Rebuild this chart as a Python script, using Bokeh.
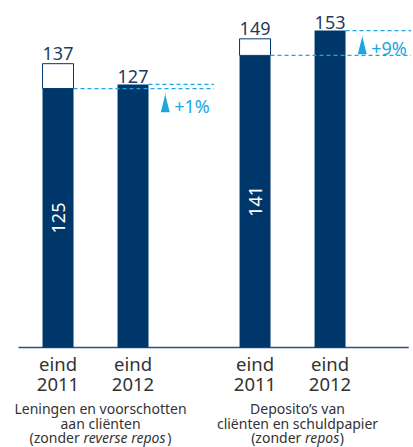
import math
from bokeh.plotting import figure
from bokeh.models import Range1d
from bokeh.core.properties import value
from bokeh.embed import file_html
from bokeh.resources import INLINE

# ---- data ----
group_line1 = ["Leningen en voorschotten", "Deposito’s van"]
group_line2 = ["aan cliënten", "cliënten en schuldpapier"]
group_line3_pre = ["(zonder ", "(zonder "]
group_line3_ital = ["reverse repos", "repos"]
group_line3_post = [")", ")"]
years = ["2011", "2012"]
period_word = "eind"
comparable_2011 = [125, 141]
reported_2011 = [137, 149]
value_2012 = [127, 153]
growth = ["+1%", "+9%"]

# ---- style ----
NAVY = "#00376b"
LABEL = "#1f3a60"
CYAN = "#1ba6e0"
GREY = "#333333"
FONT = value("Noto Sans")

BAR_W = 0.413
GROUP_STEP = 2.627

x2011 = [g * GROUP_STEP for g in range(len(comparable_2011))]
x2012 = [g * GROUP_STEP + 1.0 for g in range(len(value_2012))]
xcenter = [(a + b) / 2 for a, b in zip(x2011, x2012)]

p = figure(width=413, height=447, output_backend="svg", toolbar_location=None,
           x_range=Range1d(-0.767, 4.74), y_range=Range1d(-48.3, 167.5),
           x_axis_location=None, y_axis_location=None, min_border=0)
p.grid.visible = False
p.outline_line_color = None
p.background_fill_color = "white"

# baseline
p.segment(x0=[x2011[0] - 0.527], y0=[0], x1=[x2012[-1] + 1.05], y1=[0],
          line_color="#2e4f7c", line_width=1.5)

# bars
p.vbar(x=x2011, top=comparable_2011, bottom=0, width=BAR_W, fill_color=NAVY, line_color=None)
p.vbar(x=x2011, top=reported_2011, bottom=comparable_2011, width=BAR_W,
       fill_color="white", line_color=NAVY, line_width=1)
p.vbar(x=x2012, top=value_2012, bottom=0, width=BAR_W, fill_color=NAVY, line_color=None)

# dashed reference lines
xend = [x + 1.08 for x in x2012]
p.segment(x0=[x + BAR_W / 2 for x in x2011], y0=comparable_2011, x1=xend, y1=comparable_2011,
          line_color=CYAN, line_width=1.2, line_dash="4 3")
p.segment(x0=[x + BAR_W / 2 for x in x2012], y0=value_2012, x1=xend, y1=value_2012,
          line_color=CYAN, line_width=1.2, line_dash="4 3")

# arrows
xs, ys, tx, ty = [], [], [], []
for old, new, xb in zip(comparable_2011, value_2012, x2012):
    top = max(old, new) - 1.5
    if top - 10 < min(old, new):
        top = min(old, new) - 1.5
    bot = top - 10
    ax = xb + 0.43
    xs.append([ax, ax - 0.004, ax - 0.06, ax + 0.06, ax + 0.004])
    ys.append([top, top - 2, bot, bot, top - 2])
    tx.append(ax)
    ty.append(bot)
p.patches(xs=xs, ys=ys, fill_color=CYAN, line_color=None)
p.text(x=tx, y=ty, text=growth, x_offset=9, y_offset=-6, text_align="left",
       text_baseline="alphabetic", text_font=FONT, text_font_size="18px", text_color=CYAN)

# value labels
p.text(x=x2011, y=reported_2011, text=[str(v) for v in reported_2011], y_offset=-10,
       text_align="center", text_baseline="alphabetic", text_font=FONT,
       text_font_size="18px", text_color=LABEL)
p.text(x=x2012, y=value_2012, text=[str(v) for v in value_2012], y_offset=-8,
       text_align="center", text_baseline="alphabetic", text_font=FONT,
       text_font_size="18px", text_color=LABEL)
p.text(x=x2011, y=[v / 2 for v in comparable_2011], text=[str(v) for v in comparable_2011],
       angle=math.pi / 2, text_align="center", text_baseline="middle", text_font=FONT,
       text_font_size="18px", text_color="white")

# category labels
allx = x2011 + x2012
p.text(x=allx, y=[0] * 4, text=[period_word] * 4, y_offset=16, text_align="center",
       text_baseline="middle", text_font=FONT, text_font_size="18.5px", text_color=GREY)
p.text(x=allx, y=[0] * 4, text=[years[0]] * 2 + [years[1]] * 2, y_offset=37,
       text_align="center", text_baseline="middle", text_font=FONT,
       text_font_size="18.5px", text_color=GREY)

# group labels
GFS = "14px"
p.text(x=xcenter, y=[0, 0], text=group_line1, x_offset=5, y_offset=61, text_align="center",
       text_baseline="middle", text_font=FONT, text_font_size=GFS, text_color=GREY)
p.text(x=xcenter, y=[0, 0], text=group_line2, x_offset=5, y_offset=76, text_align="center",
       text_baseline="middle", text_font=FONT, text_font_size=GFS, text_color=GREY)
pre_off = [5 - 71.0, 5 - 46.4]
ital_off = [5 - 17.1, 5 + 7.4]
post_off = [5 + 66.8, 5 + 42.3]
p.text(x=xcenter, y=[0, 0], text=group_line3_pre, x_offset=pre_off, y_offset=90,
       text_align="left", text_baseline="middle", text_font=FONT, text_font_size=GFS,
       text_color=GREY)
p.text(x=xcenter, y=[0, 0], text=group_line3_ital, x_offset=ital_off, y_offset=90,
       text_align="left", text_baseline="middle", text_font=FONT, text_font_size=GFS,
       text_font_style="italic", text_color=GREY)
p.text(x=xcenter, y=[0, 0], text=group_line3_post, x_offset=post_off, y_offset=90,
       text_align="left", text_baseline="middle", text_font=FONT, text_font_size=GFS,
       text_color=GREY)

open("out.html", "w").write(file_html(p, INLINE))
